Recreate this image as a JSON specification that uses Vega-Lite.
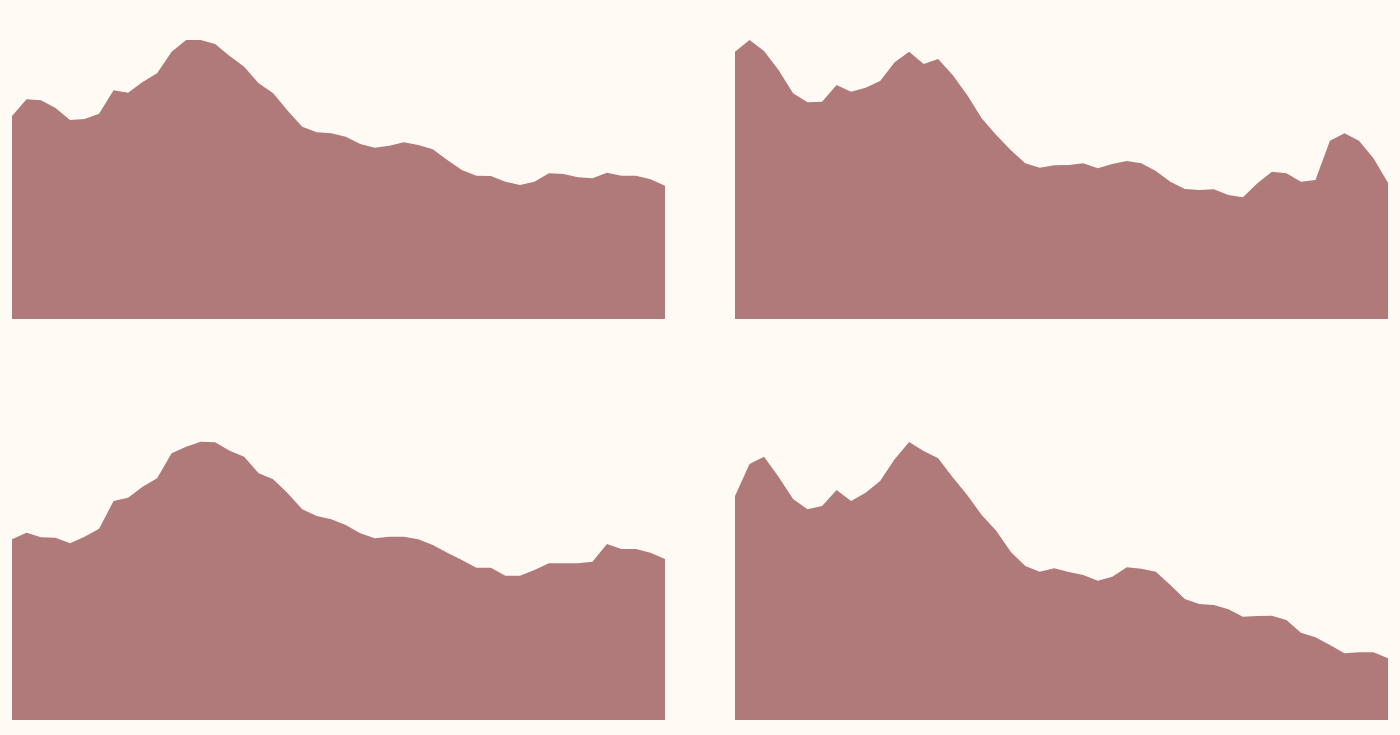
{
  "$schema": "https://vega.github.io/schema/vega-lite/v6.json",
  "background": "#fffbf4",
  "padding": {"left": 12, "top": 20, "right": 12, "bottom": 15},
  "config": {"view": {"stroke": null}},
  "data": {
    "values": [
      {"i": 0, "a": 203, "b": 267.3, "c": 180.7, "d": 224},
      {"i": 1, "a": 219.7, "b": 279, "c": 187.3, "d": 256},
      {"i": 2, "a": 218.7, "b": 268, "c": 182.7, "d": 263.3},
      {"i": 3, "a": 211, "b": 249, "c": 182.3, "d": 243.3},
      {"i": 4, "a": 199, "b": 225.7, "c": 176.7, "d": 221},
      {"i": 5, "a": 200, "b": 216.7, "c": 183.3, "d": 210.7},
      {"i": 6, "a": 205.3, "b": 217.3, "c": 191.3, "d": 214},
      {"i": 7, "a": 228.7, "b": 234, "c": 219, "d": 230},
      {"i": 8, "a": 226.3, "b": 227.3, "c": 222.3, "d": 219},
      {"i": 9, "a": 237, "b": 231.3, "c": 233.3, "d": 227.3},
      {"i": 10, "a": 245.7, "b": 238, "c": 241.7, "d": 239},
      {"i": 11, "a": 267.3, "b": 256.7, "c": 266.7, "d": 260.7},
      {"i": 12, "a": 279, "b": 267.3, "c": 273.3, "d": 278},
      {"i": 13, "a": 279, "b": 255, "c": 278.3, "d": 269},
      {"i": 14, "a": 275, "b": 260, "c": 277.7, "d": 261.7},
      {"i": 15, "a": 263, "b": 244, "c": 269.3, "d": 242.7},
      {"i": 16, "a": 252.3, "b": 224, "c": 263.3, "d": 225},
      {"i": 17, "a": 235.7, "b": 200.7, "c": 246.7, "d": 205},
      {"i": 18, "a": 225.7, "b": 184, "c": 240.7, "d": 189.3},
      {"i": 19, "a": 208.3, "b": 169, "c": 226.7, "d": 168.3},
      {"i": 20, "a": 192.3, "b": 155.7, "c": 210.7, "d": 154},
      {"i": 21, "a": 186.7, "b": 151.3, "c": 204, "d": 148.3},
      {"i": 22, "a": 185.7, "b": 153.7, "c": 200.7, "d": 151.7},
      {"i": 23, "a": 182.3, "b": 154, "c": 195, "d": 148},
      {"i": 24, "a": 175, "b": 155.7, "c": 186.7, "d": 145},
      {"i": 25, "a": 171.3, "b": 150.7, "c": 181.7, "d": 139.3},
      {"i": 26, "a": 173.3, "b": 155, "c": 183.3, "d": 143.3},
      {"i": 27, "a": 176.7, "b": 158, "c": 183.3, "d": 152.7},
      {"i": 28, "a": 174, "b": 155.7, "c": 180.7, "d": 151.3},
      {"i": 29, "a": 169.7, "b": 148, "c": 175, "d": 148.3},
      {"i": 30, "a": 159, "b": 137.3, "c": 167.3, "d": 135},
      {"i": 31, "a": 149, "b": 130, "c": 160, "d": 121},
      {"i": 32, "a": 143.3, "b": 129, "c": 152.3, "d": 116},
      {"i": 33, "a": 143, "b": 129.7, "c": 152.3, "d": 115},
      {"i": 34, "a": 137.3, "b": 124, "c": 144.3, "d": 110.7},
      {"i": 35, "a": 134, "b": 121.7, "c": 144.3, "d": 103.3},
      {"i": 36, "a": 137.3, "b": 135.7, "c": 150, "d": 104},
      {"i": 37, "a": 145.7, "b": 147.3, "c": 156.7, "d": 104.3},
      {"i": 38, "a": 145, "b": 145.7, "c": 156.7, "d": 100},
      {"i": 39, "a": 141.7, "b": 137.3, "c": 156.7, "d": 87.3},
      {"i": 40, "a": 140.7, "b": 139, "c": 158.3, "d": 82.7},
      {"i": 41, "a": 146.3, "b": 178.3, "c": 176, "d": 75},
      {"i": 42, "a": 143.3, "b": 185.7, "c": 171, "d": 66.7},
      {"i": 43, "a": 143.3, "b": 178.3, "c": 171, "d": 67.7},
      {"i": 44, "a": 139.7, "b": 160.7, "c": 167.3, "d": 67.7},
      {"i": 45, "a": 133.3, "b": 136.3, "c": 161, "d": 61.7}
    ]
  },
  "repeat": ["a", "b", "c", "d"],
  "columns": 2,
  "spacing": {"row": 102, "column": 70},
  "spec": {
    "width": 653,
    "height": 299,
    "mark": {"type": "area", "color": "#b07a7b", "opacity": 1, "interpolate": "linear"},
    "encoding": {
      "x": {
        "field": "i",
        "type": "quantitative",
        "scale": {"domain": [0, 45], "nice": false, "zero": false},
        "axis": null
      },
      "y": {
        "field": {"repeat": "repeat"},
        "type": "quantitative",
        "scale": {"domain": [0, 299], "nice": false},
        "axis": null
      }
    }
  }
}
